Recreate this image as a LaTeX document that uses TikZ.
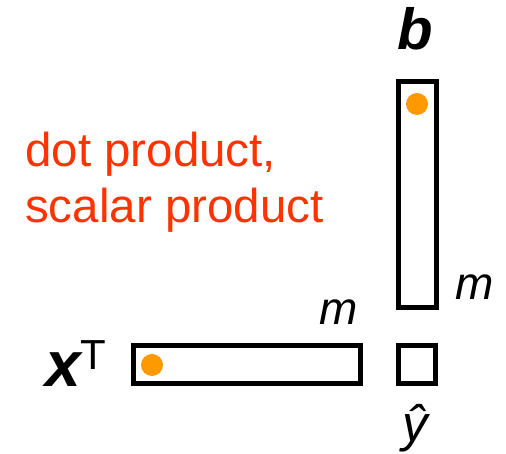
\documentclass[tikz,border=0pt]{standalone}
\usepackage{fontspec}
\setmainfont{Liberation Sans}
\definecolor{dotorange}{HTML}{FF9900}
\definecolor{textred}{HTML}{FF3300}
\begin{document}
\begin{tikzpicture}[x=1pt,y=1pt,
  vecbox/.style={draw,line width=5pt,inner sep=0pt},
  entry/.style={circle,fill=dotorange,minimum size=22pt,inner sep=0pt},
  lbl/.style={inner sep=0pt,anchor=base,font=\fontsize{46}{54}\selectfont\itshape}]
  \useasboundingbox (0,0) rectangle (506,454);
  % column b, row x^T and the result
  \node[vecbox,minimum width=38pt,minimum height=225.5pt] (colb) at (417,259.25) {};
  \node[vecbox,minimum width=227pt,minimum height=38pt] (rowx) at (246.5,89.5) {};
  \node[vecbox,minimum width=37.5pt,minimum height=38pt] (yhat) at (417,89.5) {};
  \node[entry] (bdot) at (417,350) {};
  \node[entry] (xdot) at (152,89) {};
  % labels
  \node[lbl,font=\fontsize{58}{60}\selectfont\bfseries\itshape] (blbl) at (415,404.7) {b};
  \node[lbl] (mright) at (475,154.7) {m};
  \node[lbl] (mtop) at (339,129) {m};
  \node[lbl,anchor=base west] (xlbl) at (45,67) {\fontsize{64}{66}\selectfont\bfseries\itshape x\raisebox{17pt}{\fontsize{42}{44}\selectfont\mdseries\upshape T}};
  \node[lbl,font=\fontsize{51}{56}\selectfont\itshape] (ylbl) at (415,12) {ŷ};
  \node[inner sep=0pt,anchor=north west,align=left,text=textred,
    font=\fontsize{47.5}{56}\selectfont] (name) at (25,322) {dot product,\\scalar product};
\end{tikzpicture}
\end{document}
